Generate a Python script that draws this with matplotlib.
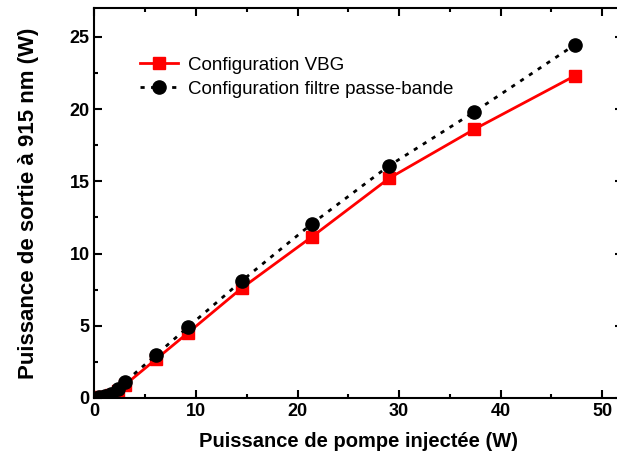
import matplotlib.pyplot as plt
from matplotlib.ticker import MultipleLocator

plt.rcParams['font.family'] = ['Liberation Sans', 'DejaVu Sans']

# puissance de pompe injectee (W)
pump = [0.5, 1.0, 1.6, 2.3, 3.0, 6.1, 9.2, 14.5, 21.4, 29.0, 37.4, 47.3]
# puissance de sortie a 915 nm (W)
vbg = [0.05, 0.1, 0.2, 0.5, 0.9, 2.7, 4.5, 7.6, 11.15, 15.2, 18.6, 22.3]
filtre = [0.05, 0.15, 0.3, 0.65, 1.1, 3.0, 4.9, 8.1, 12.05, 16.07, 19.8, 24.45]

fig = plt.figure(figsize=(6.17, 4.66), dpi=100)
ax = fig.add_axes([0.153, 0.146, 0.856, 0.837])

ax.plot(pump, vbg, color='red', lw=2, marker='s', ms=9,
        label='Configuration VBG')
ax.plot(pump, filtre, color='black', lw=2, ls=(0, (1.5, 2.3)), marker='o', ms=9.5,
        label='Configuration filtre passe-bande')

ax.set_xlim(0, 52)
ax.set_ylim(0, 27)
ax.xaxis.set_major_locator(MultipleLocator(10))
ax.xaxis.set_minor_locator(MultipleLocator(5))
ax.yaxis.set_major_locator(MultipleLocator(5))
ax.yaxis.set_minor_locator(MultipleLocator(2.5))
ax.tick_params(which='both', direction='in', top=True, right=True, width=1.5,
               labelsize=13)
ax.tick_params(which='major', length=6)
ax.tick_params(which='minor', length=3)
for lab in ax.get_xticklabels() + ax.get_yticklabels():
    lab.set_fontweight('bold')
for s in ax.spines.values():
    s.set_linewidth(1.5)

ax.set_xlabel('Puissance de pompe injectée (W)', fontsize=14.5, fontweight='bold', labelpad=9)
ax.set_ylabel('Puissance de sortie à 915 nm (W)', fontsize=16, fontweight='bold', labelpad=22)

ax.legend(loc='upper left', bbox_to_anchor=(0.073, 0.895), frameon=False, fontsize=13.5,
          handlelength=2.0, handletextpad=0.55, borderaxespad=0, labelspacing=0.38)

fig.savefig('out.png')
